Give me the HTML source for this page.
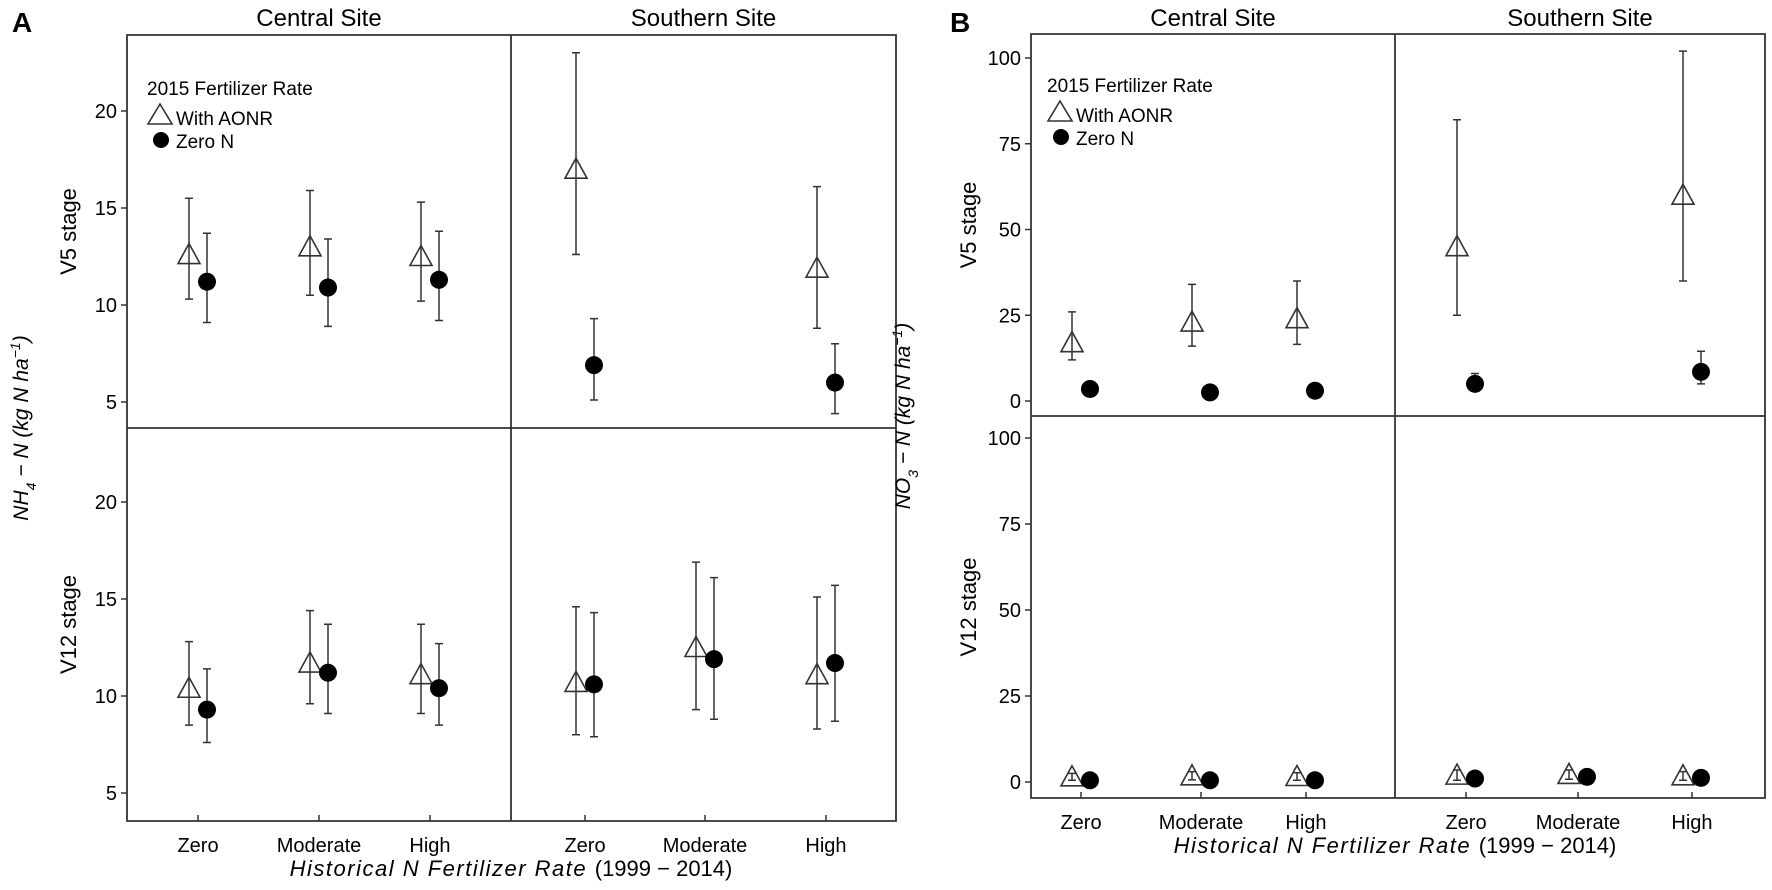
<!DOCTYPE html>
<html><head><meta charset="utf-8">
<style>
html,body{margin:0;padding:0;background:#fff;}
svg{display:block;font-family:"Liberation Sans",Arial,sans-serif;}
</style></head>
<body>
<svg id="fig" width="1772" height="890" viewBox="0 0 1772 890"></svg>
<script>
const categories = ["Zero","Moderate","High"];
const sites = ["Central Site","Southern Site"];
// Panel A (NH4-N): [site][category] -> value or null
const aV5Aonr  = [[12.6,13.0,12.5],[17.0,null,11.9]];
const aV5AonrLo= [[10.3,10.5,10.2],[12.6,null,8.8]];
const aV5AonrHi= [[15.5,15.9,15.3],[23.0,null,16.1]];
const aV5Zero  = [[11.2,10.9,11.3],[6.9,null,6.0]];
const aV5ZeroLo= [[9.1,8.9,9.2],[5.1,null,4.4]];
const aV5ZeroHi= [[13.7,13.4,13.8],[9.3,null,8.0]];
const aV12Aonr  = [[10.4,11.7,11.1],[10.7,12.5,11.1]];
const aV12AonrLo= [[8.5,9.6,9.1],[8.0,9.3,8.3]];
const aV12AonrHi= [[12.8,14.4,13.7],[14.6,16.9,15.1]];
const aV12Zero  = [[9.3,11.2,10.4],[10.6,11.9,11.7]];
const aV12ZeroLo= [[7.6,9.1,8.5],[7.9,8.8,8.7]];
const aV12ZeroHi= [[11.4,13.7,12.7],[14.3,16.1,15.7]];
const aTicks = [5,10,15,20];
// Panel B (NO3-N)
const bV5Aonr  = [[17,23,24],[45,null,60]];
const bV5AonrLo= [[12,16,16.5],[25,null,35]];
const bV5AonrHi= [[26,34,35],[82,null,102]];
const bV5Zero  = [[3.5,2.5,3],[5,null,8.5]];
const bV5ZeroLo= [[3.5,2.5,3],[3,null,5]];
const bV5ZeroHi= [[3.5,2.5,3],[8,null,14.5]];
const bV12Aonr  = [[1.5,1.8,1.6],[2,2.2,1.8]];
const bV12AonrLo= [[0.5,0.6,0.5],[0.5,0.8,0.5]];
const bV12AonrHi= [[2.5,3,2.7],[3.5,3.5,3]];
const bV12Zero  = [[0.5,0.5,0.5],[1,1.5,1.2]];
const bV12ZeroLo= [[0.5,0.5,0.5],[1,1.5,1.2]];
const bV12ZeroHi= [[0.5,0.5,0.5],[1,1.5,1.2]];
const bTicks = [0,25,50,75,100];

const NS="http://www.w3.org/2000/svg";
const svg=document.getElementById('fig');
function el(tag,attrs,parent,text){const e=document.createElementNS(NS,tag);for(const k in attrs)e.setAttribute(k,attrs[k]);if(text!==undefined)e.textContent=text;(parent||svg).appendChild(e);return e;}
const C="#333";

function panel(P){
  const g=el('g',{});
  
  
  const f=el('path',{d:`M${P.x0},${P.y0}H${P.x2}V${P.y2}H${P.x0}Z M${P.x1},${P.y0}V${P.y2} M${P.x0},${P.ym}H${P.x2}`,fill:'none',stroke:C,'stroke-width':1.8},g);
  
  
  const rows=[{y0:P.y0,y1:P.ym,vz:P.upZero,vs:P.upScale,label:'V5 stage',d:P.v5},{y0:P.ym,y1:P.y2,vz:P.loZero,vs:P.loScale,label:'V12 stage',d:P.v12}];
  rows.forEach((r,ri)=>{
    const Y=v=>r.vz - v*r.vs;
    P.ticks.forEach(t=>{const y=Y(t); if(y<r.y0+4||y>r.y1-4)return;
      const tk=el('line',{x1:P.x0-6,x2:P.x0,y1:y,y2:y,stroke:C,'stroke-width':1.5},g);
      
      
      const tl=el('text',{x:P.x0-10,y:y+7,'text-anchor':'end','font-size':20,fill:'#000'},g,String(t));
      
      
    });
    const cy=(r.y0+r.y1)/2;
    const rl=el('text',{x:P.rowLabelX,y:cy,'text-anchor':'middle','font-size':22,transform:`rotate(-90 ${P.rowLabelX} ${cy})`},g,r.label);
    
    
    for(let s=0;s<2;s++)for(let c=0;c<3;c++){
      const xc=P.ticksX[s][c];
      const series=[{v:r.d[0],lo:r.d[1],hi:r.d[2],dx:-9,kind:'tri'},{v:r.d[3],lo:r.d[4],hi:r.d[5],dx:9,kind:'dot'}];
      series.forEach(se=>{
        const v=se.v[s][c]; if(v===null)return;
        const x=xc+se.dx, y=Y(v), ylo=Y(se.lo[s][c]), yhi=Y(se.hi[s][c]);
        if(Math.abs(ylo-yhi)>1){
          const eb=el('path',{d:`M${x},${yhi}V${ylo}M${x-4},${yhi}H${x+4}M${x-4},${ylo}H${x+4}`,stroke:C,'stroke-width':1.5,fill:'none'},g);
          
          
        }
        let m;
        if(se.kind==='tri'){ m=el('path',{d:`M${x},${y-11}L${x+11},${y+9}L${x-11},${y+9}Z`,fill:'none',stroke:C,'stroke-width':1.6},g);
          }
        else { m=el('circle',{cx:x,cy:y,r:9,fill:'#000'},g);
          }
        
      });
    }
  });
  for(let s=0;s<2;s++){
    const xs=s?[P.x1,P.x2]:[P.x0,P.x1];
    const st=el('text',{x:(xs[0]+xs[1])/2,y:26,'text-anchor':'middle','font-size':24},g,sites[s]);
    
    
    for(let c=0;c<3;c++){
      const x=P.ticksX[s][c];
      const tk=el('line',{x1:x,x2:x,y1:P.y2,y2:P.y2-6,stroke:C,'stroke-width':1.5},g);
      
      
      const tl=el('text',{x:x,y:P.y2+31,'text-anchor':'middle','font-size':20},g,categories[c]);
      
      
    }
  }
  const xt=el('text',{x:P.x1,y:P.y2+55,'text-anchor':'middle','font-size':22,'font-style':'italic','letter-spacing':'1.5'},g,'Historical N Fertilizer Rate ');
  el('tspan',{'font-style':'normal','letter-spacing':'0'},xt,'(1999 − 2014)');
  
  
  const ax=P.yTitleX, ay=(P.y0+P.y2)/2;
  const yt=el('text',{x:ax,y:ay,'text-anchor':'middle','font-size':21,'font-style':'italic',transform:`rotate(-90 ${ax} ${ay})`},g);
  el('tspan',{},yt,P.chem);
  el('tspan',{'baseline-shift':'sub','font-size':14},yt,P.sub);
  el('tspan',{},yt,' − N (kg N ha');
  el('tspan',{'baseline-shift':'super','font-size':14},yt,'−1');
  el('tspan',{},yt,')');
  
  
  const L=el('g',{},g);
  
  
  el('text',{x:P.legX,y:P.legY,'font-size':19},L,'2015 Fertilizer Rate');
  el('path',{d:`M${P.legX+13},${P.legY+9}L${P.legX+25},${P.legY+29}L${P.legX+1},${P.legY+29}Z`,fill:'none',stroke:C,'stroke-width':1.6},L);
  el('text',{x:P.legX+29,y:P.legY+30,'font-size':19},L,'With AONR');
  el('circle',{cx:P.legX+14,cy:P.legY+45,r:8,fill:'#000'},L);
  el('text',{x:P.legX+29,y:P.legY+53,'font-size':19},L,'Zero N');
  const pl=el('text',{x:P.letterX,y:32,'font-size':28,'font-weight':'bold'},g,P.letter);
  
  
}

panel({name:'panel-a',letter:'A',letterX:12,x0:127,x1:511,x2:896,y0:35,ym:428,y2:821,
  upZero:111+20*19.4,upScale:19.4,loZero:793+5*19.4,loScale:19.4,ticks:aTicks,
  ticksX:[[198,319,430],[585,705,826]],rowLabelX:76,yTitleX:28,chem:'NH',sub:'4',
  v5:[aV5Aonr,aV5AonrLo,aV5AonrHi,aV5Zero,aV5ZeroLo,aV5ZeroHi],
  v12:[aV12Aonr,aV12AonrLo,aV12AonrHi,aV12Zero,aV12ZeroLo,aV12ZeroHi],legX:147,legY:95});
panel({name:'panel-b',letter:'B',letterX:950,x0:1031,x1:1395,x2:1765,y0:34,ym:416,y2:798,
  upZero:401,upScale:3.43,loZero:782,loScale:3.44,ticks:bTicks,
  ticksX:[[1081,1201,1306],[1466,1578,1692]],rowLabelX:976,yTitleX:910,chem:'NO',sub:'3',
  v5:[bV5Aonr,bV5AonrLo,bV5AonrHi,bV5Zero,bV5ZeroLo,bV5ZeroHi],
  v12:[bV12Aonr,bV12AonrLo,bV12AonrHi,bV12Zero,bV12ZeroLo,bV12ZeroHi],legX:1047,legY:92});
</script>
</body></html>
